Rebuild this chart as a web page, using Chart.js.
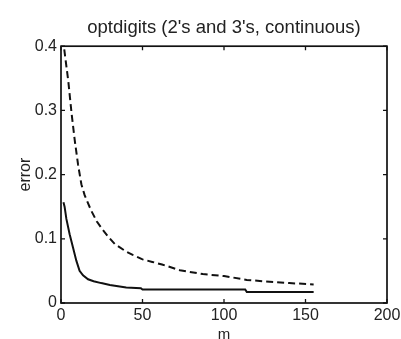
<!DOCTYPE html>
<html>
<head>
<meta charset="utf-8">
<script src="https://cdn.jsdelivr.net/npm/chart.js@4.4.1/dist/chart.umd.min.js"></script>
<style>
  html, body { margin: 0; padding: 0; background: #fff; }
  #wrap { width: 401px; height: 339px; }
</style>
</head>
<body>
<div id="wrap"><canvas id="c" width="401" height="339"></canvas></div>
<script>
// ---- data ----
const titleText = "optdigits (2's and 3's, continuous)";
const xLabel = "m";
const yLabel = "error";

const xTicks = [0, 50, 100, 150, 200];
const yTicks = [0, 0.1, 0.2, 0.3, 0.4];

// dashed series
const mDashed = [2, 3, 4.5, 6.5, 8.5, 10.5, 12.5, 14.5, 18.5, 22, 25, 29, 33, 40, 44, 50, 56, 62, 73, 87, 100, 114, 128, 140, 155];
const errDashed = [0.395, 0.375, 0.345, 0.295, 0.252, 0.215, 0.185, 0.168, 0.144, 0.127, 0.116, 0.103, 0.092, 0.080, 0.075, 0.068, 0.064, 0.060, 0.051, 0.045, 0.042, 0.036, 0.033, 0.031, 0.029];

// solid series
const mSolid = [1.5, 2.2, 3.3, 5.3, 7.4, 9.4, 11.4, 13.5, 16.6, 20, 24.7, 30, 35, 40, 49, 50, 113, 114, 155];
const errSolid = [0.157, 0.150, 0.131, 0.107, 0.086, 0.066, 0.050, 0.043, 0.037, 0.034, 0.031, 0.028, 0.026, 0.024, 0.023, 0.021, 0.021, 0.017, 0.017];

const toPts = (xs, ys) => xs.map((x, i) => ({ x: x, y: ys[i] }));

const FONT = "'Liberation Sans', Arial, Helvetica, sans-serif";

const framePlugin = {
  id: 'frame',
  afterDraw(chart) {
    const { ctx, chartArea: { left, right, top, bottom }, scales: { x, y } } = chart;
    ctx.save();
    ctx.strokeStyle = '#111';
    ctx.lineWidth = 1.7;
    ctx.strokeRect(left, top, right - left, bottom - top);
    ctx.lineWidth = 1.3;
    const tl = 4;
    ctx.beginPath();
    xTicks.forEach(v => {
      const px = x.getPixelForValue(v);
      ctx.moveTo(px, bottom); ctx.lineTo(px, bottom - tl);
      ctx.moveTo(px, top); ctx.lineTo(px, top + tl);
    });
    yTicks.forEach(v => {
      const py = y.getPixelForValue(v);
      ctx.moveTo(left, py); ctx.lineTo(left + tl, py);
      ctx.moveTo(right, py); ctx.lineTo(right - tl, py);
    });
    ctx.stroke();
    ctx.restore();
  }
};

new Chart(document.getElementById('c'), {
  type: 'line',
  data: {
    datasets: [
      {
        label: 'dashed',
        data: toPts(mDashed, errDashed),
        borderColor: '#111',
        borderWidth: 2,
        borderDash: [7, 4],
        pointRadius: 0,
        tension: 0,
        fill: false
      },
      {
        label: 'solid',
        data: toPts(mSolid, errSolid),
        borderColor: '#111',
        borderWidth: 2,
        pointRadius: 0,
        tension: 0,
        fill: false
      }
    ]
  },
  options: {
    responsive: false,
    animation: false,
    devicePixelRatio: 1,
    layout: { padding: { left: 0, right: 14, top: 0, bottom: 0 } },
    plugins: {
      legend: { display: false },
      tooltip: { enabled: false },
      title: {
        display: true,
        fullSize: false,
        text: titleText,
        color: '#222',
        font: { family: FONT, size: 18.5, weight: 'normal', lineHeight: 1.2 },
        padding: { top: 17, bottom: 7 }
      }
    },
    scales: {
      x: {
        type: 'linear',
        min: 0, max: 200,
        afterBuildTicks(s) { s.ticks = xTicks.map(v => ({ value: v })); },
        afterFit(s) { s.height = 36; s.paddingLeft = 0; s.paddingRight = 0; },
        grid: { display: false, drawTicks: false, tickLength: 0 },
        border: { display: false },
        ticks: {
          color: '#222',
          padding: 3,
          maxRotation: 0,
          font: { family: FONT, size: 16 },
          callback: v => String(v)
        },
        title: {
          display: true,
          text: xLabel,
          color: '#222',
          font: { family: FONT, size: 15, lineHeight: 1 },
          padding: { top: 0, bottom: -3 }
        }
      },
      y: {
        type: 'linear',
        min: 0, max: 0.4,
        afterBuildTicks(s) { s.ticks = yTicks.map(v => ({ value: v })); },
        afterFit(s) { s.width = 61; s.paddingTop = 0; s.paddingBottom = 0; },
        grid: { display: false, drawTicks: false, tickLength: 0 },
        border: { display: false },
        ticks: {
          color: '#222',
          padding: 4,
          font: { family: FONT, size: 16 },
          callback: v => (v === 0 ? '0' : v.toFixed(1))
        },
        title: {
          display: true,
          text: yLabel,
          color: '#222',
          font: { family: FONT, size: 16, lineHeight: 1.2 },
          padding: { top: 16, bottom: 0 }
        }
      }
    }
  },
  plugins: [framePlugin]
});
</script>
</body>
</html>
